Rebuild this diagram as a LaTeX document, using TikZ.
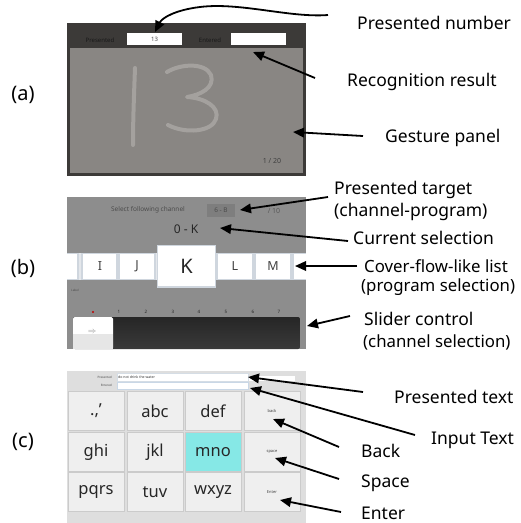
\documentclass[tikz,border=0pt]{standalone}
\usepackage{fontspec}
\setmainfont{Noto Sans}
\usetikzlibrary{arrows.meta}
\definecolor{frameA}{HTML}{3C3A38}
\definecolor{panelA}{HTML}{898683}
\definecolor{strokeA}{HTML}{A4A19E}
\definecolor{panelB}{HTML}{8D8D8D}
\definecolor{boxB}{HTML}{7E7E7E}
\definecolor{cardB}{HTML}{CFD6DE}
\definecolor{stripB}{HTML}{E4E7EB}
\definecolor{sliderTop}{HTML}{262626}
\definecolor{sliderBot}{HTML}{3A3A3A}
\definecolor{thumbLow}{HTML}{E6E6E6}
\definecolor{panelC}{HTML}{DEDEDE}
\definecolor{keyC}{HTML}{EFEFEF}
\definecolor{keyborder}{HTML}{CBCBCB}
\definecolor{cyanC}{HTML}{86E8E6}
\definecolor{boxline}{HTML}{D5DDE5}
\definecolor{boxline2}{HTML}{C9D7E6}
\begin{document}
\begin{tikzpicture}[x=1pt,y=-1pt,
  lbl/.style={font=\fontsize{17.5}{19}\selectfont, inner sep=0pt, anchor=west},
  lblsm/.style={font=\fontsize{16.8}{19}\selectfont, inner sep=0pt, anchor=west},
  panlbl/.style={font=\fontsize{20}{22}\selectfont, inner sep=0pt},
  arr/.style={line width=1.8pt, -{Triangle[length=11pt,width=9.5pt]}},
  tiny/.style={font=\fontsize{5}{6}\selectfont, inner sep=0pt},
  card/.style={draw=cardB, fill=white, line width=1.2pt},
  key/.style={draw=keyborder, fill=keyC, line width=0.8pt},
  keytxt/.style={font=\fontsize{16.5}{18}\selectfont, text=black!85, inner sep=0pt},
]
\useasboundingbox (0,0) rectangle (521,523);
% ---------------- (a) ----------------
\fill[frameA] (67,23) rectangle (306,176);
\fill[panelA] (70,48) rectangle (303,173);
\node[tiny, font=\fontsize{6}{7}\selectfont, text=black!90] (apres) at (100,40) {Presented};
\fill[white] (127,33) rectangle (182,45);
\node[tiny, font=\fontsize{6}{7}\selectfont, text=black!70] (anum) at (154.5,39) {13};
\node[tiny, font=\fontsize{6}{7}\selectfont, text=black!90] (aent) at (210,40) {Entered};
\fill[white] (231,33) rectangle (286,45);
\draw[strokeA, line width=4pt, line cap=round] (135,68) .. controls (134,95) and (133,120) .. (133,145);
\draw[strokeA, line width=4pt, line cap=round, line join=round]
  (167,72) .. controls (180,64) and (205,62) .. (211,75)
  .. controls (215,88) and (200,95) .. (187,97)
  .. controls (205,98) and (220,107) .. (216,119)
  .. controls (212,132) and (185,134) .. (168,125);
\node[tiny, font=\fontsize{7}{8}\selectfont, text=black!75] (acount) at (272,161) {1 / 20};
\node[panlbl] (la) at (23,95) {(a)};
\node[lbl] (t1) at (357,23) {Presented number};
\node[lbl] (t2) at (347,82) {Recognition result};
\node[lbl] (t3) at (385,138) {Gesture panel};
\coordinate (s1) at (328,15);
\coordinate (e1) at (155,32);
\coordinate (s2) at (315,78);
\coordinate (e2) at (253,52);
\coordinate (s3) at (363,136);
\coordinate (e3) at (293,132);
\draw[arr] (s1) .. controls (290,18) and (240,2) .. (200,7) .. controls (175,10) and (162,18) .. (e1);
\draw[arr] (s2) -- (e2);
\draw[arr] (s3) -- (e3);
% ---------------- (b) ----------------
\fill[panelB] (67,197) rectangle (306,349);
\node[tiny, font=\fontsize{6.5}{7}\selectfont, text=black!70] (bsel) at (148,210) {Select following channel};
\fill[boxB] (207,204) rectangle (235,217);
\node[tiny, font=\fontsize{6.5}{7}\selectfont, text=black!70] (btarget) at (221,210.5) {6 - B};
\node[tiny, font=\fontsize{7}{8}\selectfont, text=black!65] (bcount) at (274,210.5) {/ 10};
\node[tiny, font=\fontsize{12}{14}\selectfont, text=black!85] (bcur) at (186,229) {0 - K};
\fill[stripB] (67,253) rectangle (306,280);
\draw[card] (60,253.5) rectangle (78,279.5);
\draw[card] (82,253.5) rectangle (117,279.5);
\draw[card] (119,253.5) rectangle (155,279.5);
\draw[card] (217,253.5) rectangle (253,279.5);
\draw[card] (255,253.5) rectangle (291,279.5);
\draw[card] (293,253.5) rectangle (320,279.5);
\fill[white] (306,240) rectangle (330,290);
\fill[white] (40,240) rectangle (67,290);
\draw[card] (157.5,245.5) rectangle (215.5,287);
\node[keytxt, font=\fontsize{12.5}{14}\selectfont, text=black!75] (cI) at (100,266.5) {I};
\node[keytxt, font=\fontsize{12.5}{14}\selectfont, text=black!75] (cJ) at (137,266.5) {J};
\node[keytxt, font=\fontsize{20}{22}\selectfont] (cK) at (186.5,266.5) {K};
\node[keytxt, font=\fontsize{12.5}{14}\selectfont, text=black!75] (cL) at (235,266.5) {L};
\node[keytxt, font=\fontsize{12.5}{14}\selectfont, text=black!75] (cM) at (273,266.5) {M};
\node[tiny, font=\fontsize{3}{4}\selectfont, text=black!70] (blabel) at (75,290) {Label};
\fill[red!75!black] (93,312) circle (1.2);
\foreach \n/\x in {1/119,2/146,3/173,4/199,5/226,6/253,7/279}{
  \node[tiny, font=\fontsize{4.5}{5}\selectfont\bfseries, text=black!85] (num\n) at (\x,312) {\n};
}
\shade[top color=sliderTop, bottom color=sliderBot, rounded corners=2pt] (73,317) rectangle (300,349);
\fill[white, rounded corners=1.5pt] (73,317) rectangle (113,349);
\fill[thumbLow] (73,334) rectangle (113,349);
\node[tiny, font=\fontsize{8}{9}\selectfont, text=black!45] (thumb) at (92,332) {$\Rightarrow$};
\node[panlbl] (lb) at (23,268) {(b)};
\node[lbl] (t4) at (334,190) {Presented target};
\node[lbl] (t5) at (334,212) {(channel-program)};
\node[lbl] (t6) at (353,238) {Current selection};
\node[lblsm] (t7) at (364,266) {Cover-flow-like list};
\node[lblsm] (t8) at (361,287) {(program selection)};
\node[lbl] (t9) at (364,319) {Slider control};
\node[lblsm] (t10) at (363,342) {(channel selection)};
\coordinate (s4) at (328,197);
\coordinate (e4) at (240,210);
\coordinate (s5) at (348,241);
\coordinate (e5) at (220,228);
\coordinate (s6) at (357,266);
\coordinate (e6) at (295,266);
\coordinate (s7) at (350,316);
\coordinate (e7) at (307,326);
\draw[arr] (s4) -- (e4);
\draw[arr] (s5) -- (e5);
\draw[arr] (s6) -- (e6);
\draw[arr] (s7) -- (e7);
% ---------------- (c) ----------------
\fill[panelC] (67,371) rectangle (306,523);
\node[tiny, font=\fontsize{3}{4}\selectfont, text=black!70, anchor=east] (cpres) at (112,377) {Presented};
\node[tiny, font=\fontsize{3}{4}\selectfont, text=black!70, anchor=east] (cent) at (112,385) {Entered};
\fill[white] (248,376) rectangle (295,381);
\draw[boxline, fill=white, line width=0.5pt] (117,373) rectangle (248,381);
\node[tiny, font=\fontsize{3.5}{4}\selectfont, text=black!80, anchor=west] (ptext) at (118,377) {do not drink the water};
\draw[boxline2, fill=white, line width=0.6pt] (117,382) rectangle (248,389);
\foreach \r/\y in {0/391,1/432,2/472}{
  \foreach \c/\x in {0/68,1/127,2/185,3/244}{
    \draw[key] (\x,\y) rectangle ++(56,39);
  }
}
\draw[keyborder, fill=cyanC, line width=0.8pt] (185,432) rectangle ++(56,39);
\node[keytxt] (k1) at (96,411) {.,'};
\node[keytxt] (k2) at (155,411) {abc};
\node[keytxt] (k3) at (213,411) {def};
\node[tiny, font=\fontsize{4}{5}\selectfont, text=black!75] (k4) at (272,411) {back};
\node[keytxt] (k5) at (96,452) {ghi};
\node[keytxt] (k6) at (155,452) {jkl};
\node[keytxt] (k7) at (213,452) {mno};
\node[tiny, font=\fontsize{4}{5}\selectfont, text=black!75] (k8) at (272,452) {space};
\node[keytxt] (k9) at (96,492) {pqrs};
\node[keytxt] (k10) at (155,492) {tuv};
\node[keytxt] (k11) at (213,492) {wxyz};
\node[tiny, font=\fontsize{4}{5}\selectfont, text=black!75] (k12) at (272,492) {Enter};
\node[panlbl] (lc) at (23,442) {(c)};
\node[lbl] (t11) at (394,397) {Presented text};
\node[lbl] (t12) at (431,440) {Input Text};
\node[lbl] (t13) at (361,451) {Back};
\node[lbl] (t14) at (361,483) {Space};
\node[lbl] (t15) at (361,513) {Enter};
\coordinate (s8) at (363,392);
\coordinate (e8) at (248,377);
\coordinate (s9) at (415,435);
\coordinate (e9) at (250,388);
\coordinate (s10) at (339,447);
\coordinate (e10) at (273,419);
\coordinate (s11) at (339,479);
\coordinate (e11) at (275,458);
\coordinate (s12) at (341,512);
\coordinate (e12) at (280,500);
\draw[arr] (s8) -- (e8);
\draw[arr] (s9) -- (e9);
\draw[arr] (s10) -- (e10);
\draw[arr] (s11) -- (e11);
\draw[arr] (s12) -- (e12);
\end{tikzpicture}
\end{document}
